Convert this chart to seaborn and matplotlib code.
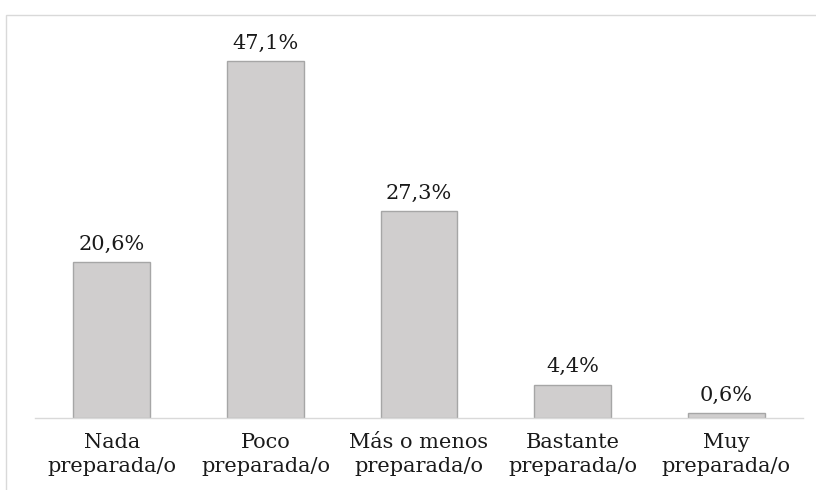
import matplotlib
matplotlib.use("Agg")
import matplotlib.pyplot as plt
from matplotlib.patches import Rectangle
import seaborn as sns
import pandas as pd

categorias = ["Nada\npreparada/o", "Poco\npreparada/o", "Más o menos\npreparada/o",
              "Bastante\npreparada/o", "Muy\npreparada/o"]
porcentajes = [20.6, 47.1, 27.3, 4.4, 0.6]
etiquetas = ["20,6%", "47,1%", "27,3%", "4,4%", "0,6%"]

df = pd.DataFrame({"categoria": categorias, "pct": porcentajes})

sns.set_theme(style="white")
plt.rcParams['font.family'] = ['DejaVu Serif']

fig = plt.figure(figsize=(8.16, 4.9), dpi=100)
ax = fig.add_axes([35 / 816, 72 / 490, 768 / 816, 380 / 490])

sns.barplot(data=df, x="categoria", y="pct", color="#D0CECE", width=0.5,
            edgecolor="#A6A6A6", linewidth=1, saturation=1, ax=ax)

for i, (v, t) in enumerate(zip(porcentajes, etiquetas)):
    ax.annotate(t, (i, v), xytext=(0, 6), textcoords="offset points",
                ha="center", va="bottom", fontsize=15, color="#1a1a1a")

ax.set_ylim(0, 50.1)
ax.set_xlim(-0.5, 4.5)
ax.set_yticks([])
ax.set_xlabel("")
ax.set_ylabel("")
ax.tick_params(axis="x", length=0, labelsize=15, labelcolor="#1a1a1a", pad=11)
for lbl in ax.get_xticklabels():
    lbl.set_linespacing(1.3)
for s in ["top", "right", "left"]:
    ax.spines[s].set_visible(False)
ax.spines["bottom"].set_color("#D9D9D9")
ax.spines["bottom"].set_linewidth(1)

# marco del gráfico
fig.patches.append(Rectangle((6 / 816, -0.1), 1.0, (490 - 15) / 490 + 0.1,
                             transform=fig.transFigure, fill=False,
                             edgecolor="#D9D9D9", linewidth=1))

fig.savefig("out.png", dpi=100)
